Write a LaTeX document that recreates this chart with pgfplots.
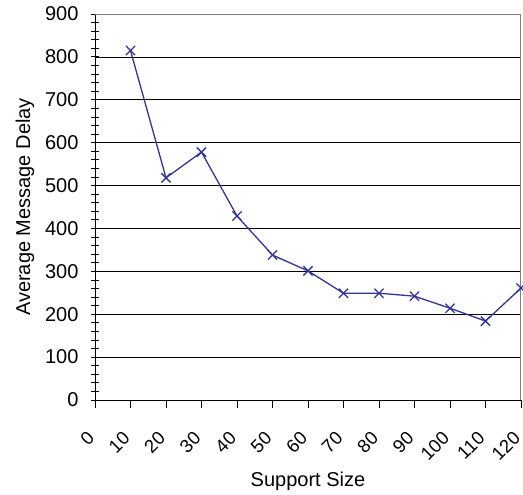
\documentclass[border=0pt]{standalone}
\usepackage{pgfplots}
\pgfplotsset{compat=1.18}
\usepackage{fontspec}
\setmainfont{Liberation Sans}
\definecolor{lineblue}{RGB}{51,51,153}
\begin{document}
\begin{tikzpicture}
\useasboundingbox (-95pt,-95pt) rectangle (428pt,400pt);
\begin{axis}[
  at={(0,0)}, anchor=south west,
  scale only axis,
  width=426pt, height=386pt,
  xmin=0, xmax=120, ymin=0, ymax=900,
  xtick={0,10,...,120},
  ytick={0,100,...,900},
  minor y tick num=4,
  axis lines*=left,
  axis line style={black, line width=0.8pt},
  ymajorgrids,
  grid style={black, line width=0.7pt},
  y tick style={black, line width=0.8pt},
  x tick style={black, line width=0.8pt},
  ytick align=center,
  xtick align=outside,
  major tick length=8pt,
  minor tick length=8pt,
  /pgf/number format/assume math mode=true,
  tick label style={font=\fontsize{20}{24}\selectfont},
  x tick label style={font=\fontsize{18.5}{22}\selectfont, rotate=45, anchor=east, xshift=-18.6pt, yshift=-16.2pt},
  yticklabel style={xshift=-9pt},
  xlabel={Support Size},
  ylabel={Average Message Delay},
  label style={font=\fontsize{20}{24}\selectfont},
  xlabel style={at={(rel axis cs:0.5,-0.2098)}, anchor=center},
  ylabel style={at={(rel axis cs:-0.1643,0.5)}, anchor=center},
  clip=true,
]
\addplot[color=lineblue, line width=1.3pt, mark=x, mark size=6.5pt, mark options={line width=1.3pt}]
  coordinates {(10,815) (20,518) (30,578) (40,429) (50,338) (60,301) (70,249) (80,249) (90,242) (100,214) (110,184) (120,261)};
\draw[gray, line width=1.2pt] (rel axis cs:0,1) -- (rel axis cs:1,1) -- (rel axis cs:1,0);
\end{axis}
\end{tikzpicture}
\end{document}
